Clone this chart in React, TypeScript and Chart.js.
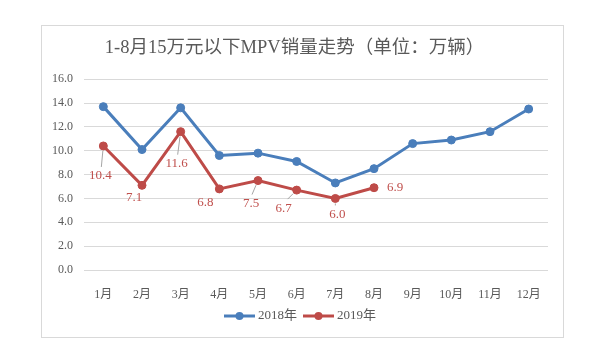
import React, { useEffect, useRef } from "react";
import { Chart, registerables } from "chart.js";

Chart.register(...registerables);

const TITLE = "1-8月15万元以下MPV销量走势（单位：万辆）";
const MONTHS = ["1月", "2月", "3月", "4月", "5月", "6月", "7月", "8月", "9月", "10月", "11月", "12月"];
const SERIES_2018_LABEL = "2018年";
const SERIES_2019_LABEL = "2019年";
const SALES_2018 = [13.7, 10.1, 13.6, 9.6, 9.8, 9.1, 7.3, 8.5, 10.6, 10.9, 11.6, 13.5];
const SALES_2019 = [10.4, 7.1, 11.6, 6.8, 7.5, 6.7, 6.0, 6.9];
const Y_MIN = 0;
const Y_MAX = 16;
const Y_STEP = 2;

const BLUE = "#4a7ebb";
const RED = "#be4b48";
const LABEL_RED = "#c0504d";
const TEXT_GRAY = "#595959";
const GRID = "#d9d9d9";
const SERIF = '"Liberation Serif", "Noto Sans CJK SC", serif';

// label placement styles for 2019 data labels: [dx, dy, leader]
const LABEL_OFFSETS: [number, number, boolean][] = [
  [-3, 30, true],
  [-8, 12.5, false],
  [-4, 32, true],
  [-14, 14, false],
  [-7, 23, true],
  [-13, 18, true],
  [2, 16, true],
  [21, 0, false],
];

const framePlugin = {
  id: "frame",
  beforeDraw(chart: any) {
    const ctx = chart.ctx;
    ctx.save();
    ctx.fillStyle = "#ffffff";
    ctx.fillRect(0, 0, chart.width, chart.height);
    ctx.strokeStyle = GRID;
    ctx.lineWidth = 1;
    ctx.strokeRect(41.5, 25.5, 522, 312);
    ctx.restore();
  },
};

const dataLabelPlugin = {
  id: "dataLabels2019",
  afterDatasetsDraw(chart: any) {
    const ctx = chart.ctx;
    const meta = chart.getDatasetMeta(1);
    const ds = chart.data.datasets[1];
    ctx.save();
    ctx.font = `13px ${SERIF}`;
    ctx.textAlign = "center";
    ctx.textBaseline = "middle";
    meta.data.forEach((pt: any, i: number) => {
      const v = ds.data[i] as number;
      const [dx, dy, leader] = LABEL_OFFSETS[i] || [0, -12, false];
      const lx = pt.x + dx;
      const ly = pt.y + dy;
      if (leader) {
        const ex = lx + (dx > 0 ? -2 : dx < -8 ? 4 : 1);
        const ey = ly - 9;
        const vx = ex - pt.x;
        const vy = ey - pt.y;
        const len = Math.hypot(vx, vy) || 1;
        ctx.strokeStyle = "#a6a6a6";
        ctx.lineWidth = 1;
        ctx.beginPath();
        ctx.moveTo(pt.x + (vx / len) * 5, pt.y + (vy / len) * 5);
        ctx.lineTo(ex, ey);
        ctx.stroke();
      }
      ctx.fillStyle = LABEL_RED;
      ctx.fillText(v.toFixed(1), lx, ly);
    });
    ctx.restore();
  },
};

const legendPlugin = {
  id: "customLegend",
  afterDraw(chart: any) {
    const ctx = chart.ctx;
    ctx.save();
    ctx.font = `13px ${SERIF}`;
    ctx.textBaseline = "middle";
    const items = chart.data.datasets.map((d: any) => ({ label: d.label, color: d.borderColor }));
    const lineW = 31;
    const gapText = 3;
    const gapItem = 6;
    const widths = items.map((it: any) => lineW + gapText + ctx.measureText(it.label).width);
    const total = widths.reduce((a: number, b: number) => a + b, 0) + gapItem * (items.length - 1);
    let x = chart.width / 2 - total / 2;
    const y = 316;
    items.forEach((it: any, i: number) => {
      ctx.strokeStyle = it.color;
      ctx.lineWidth = 3;
      ctx.beginPath();
      ctx.moveTo(x, y);
      ctx.lineTo(x + lineW, y);
      ctx.stroke();
      ctx.fillStyle = it.color;
      ctx.beginPath();
      ctx.arc(x + lineW / 2, y, 4, 0, Math.PI * 2);
      ctx.fill();
      ctx.fillStyle = TEXT_GRAY;
      ctx.textAlign = "left";
      ctx.fillText(it.label, x + lineW + gapText, y);
      x += widths[i] + gapItem;
    });
    ctx.restore();
  },
};

export default function App() {
  const ref = useRef<HTMLCanvasElement | null>(null);
  useEffect(() => {
    if (!ref.current) return;
    const chart = new Chart(ref.current, {
      type: "line",
      data: {
        labels: MONTHS,
        datasets: [
          {
            label: SERIES_2018_LABEL,
            data: SALES_2018,
            borderColor: BLUE,
            backgroundColor: BLUE,
            borderWidth: 3,
            pointRadius: 4,
            pointBorderWidth: 1,
            pointBackgroundColor: BLUE,
            pointBorderColor: BLUE,
            tension: 0,
          },
          {
            label: SERIES_2019_LABEL,
            data: SALES_2019,
            borderColor: RED,
            backgroundColor: RED,
            borderWidth: 3,
            pointRadius: 4,
            pointBorderWidth: 1,
            pointBackgroundColor: RED,
            pointBorderColor: RED,
            tension: 0,
          },
        ],
      },
      options: {
        animation: false,
        responsive: false,
        maintainAspectRatio: false,
        layout: { padding: { left: 41, right: 52, top: 25, bottom: 50 } },
        plugins: {
          legend: { display: false },
          tooltip: { enabled: false },
          title: {
            display: true,
            text: TITLE,
            color: TEXT_GRAY,
            font: { family: SERIF, size: 18.5, weight: "normal" },
            padding: { top: 12.5, bottom: 19.5 },
          },
        },
        scales: {
          x: {
            offset: true,
            grid: { display: false, offset: true },
            border: { display: false },
            ticks: {
              color: TEXT_GRAY,
              font: { family: SERIF, size: 12 },
              padding: 10,
              maxRotation: 0,
              autoSkip: false,
            },
            afterFit: (s: any) => {
              s.height = 40;
            },
          },
          y: {
            min: Y_MIN,
            max: Y_MAX,
            grid: { color: GRID, lineWidth: 1, drawTicks: false },
            border: { display: false },
            ticks: {
              stepSize: Y_STEP,
              color: TEXT_GRAY,
              font: { family: SERIF, size: 12 },
              padding: 11,
              callback: (v: any) => Number(v).toFixed(1),
            },
            afterFit: (s: any) => {
              s.width = 43;
            },
          },
        },
      },
      plugins: [framePlugin, dataLabelPlugin, legendPlugin],
    });
    return () => chart.destroy();
  }, []);
  return (
    <div style={{ position: "absolute", left: 0, top: 0, width: 600, height: 360, background: "#fff" }}>
      <canvas ref={ref} width={600} height={360} style={{ display: "block" }} />
    </div>
  );
}
